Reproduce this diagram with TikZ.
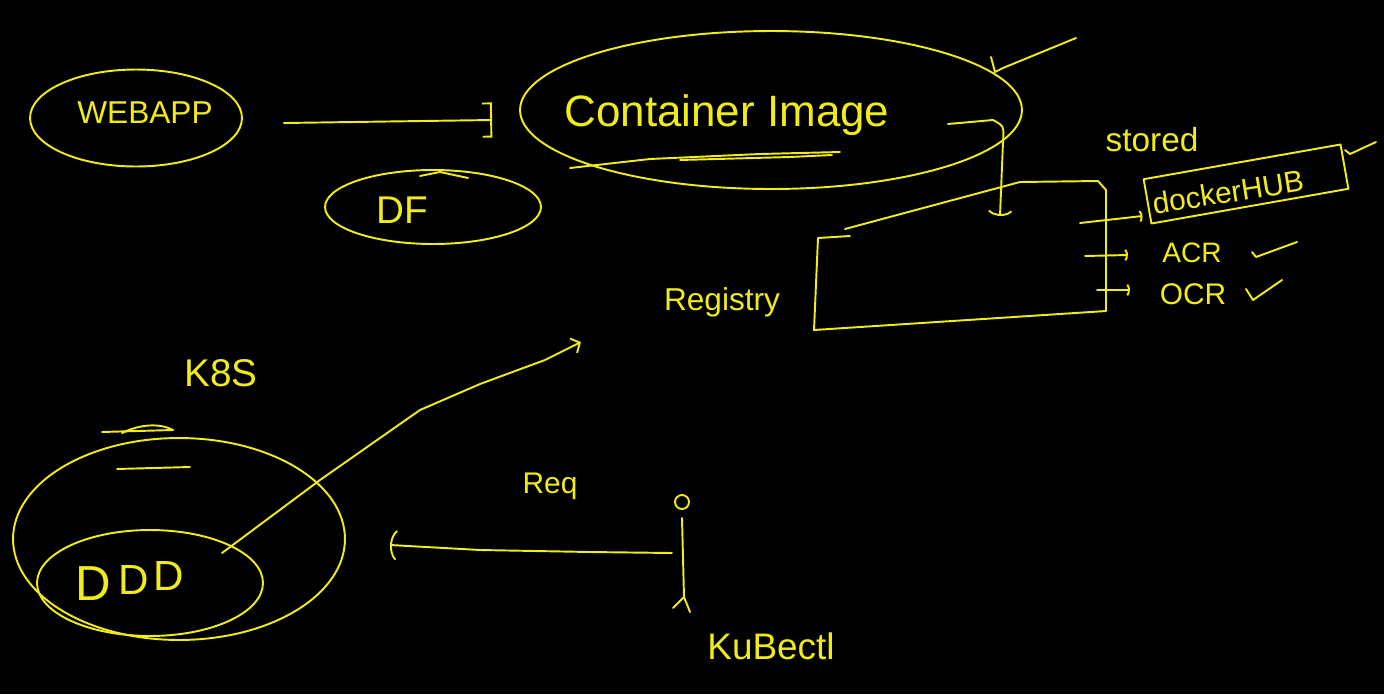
\documentclass[tikz,border=0pt]{standalone}
\usepackage{fontspec}
\setmainfont{Liberation Sans}
\usepackage{tikz}
\usetikzlibrary{arrows.meta}
\usetikzlibrary{calc}
\usetikzlibrary{shapes.geometric}

\definecolor{marker}{RGB}{240,236,24}

\tikzset{
  pen/.style={draw=marker, line width=1.1pt, line cap=round, line join=round},
  blob/.style={pen, ellipse, inner sep=0pt},
  word/.style={text=marker, inner sep=0pt},
  bracket/.style={-{Bracket[length=5pt,width=20pt]}},
  paren/.style={-{Parenthesis[length=#1/3,width=#1]}},
  barb/.style={-{Straight Barb[length=4pt,width=9pt]}},
}

\newcommand{\fs}[1]{\fontsize{#1}{#1}\selectfont}

\begin{document}
\begin{tikzpicture}[x=0.02cm, y=-0.02cm]

	\fill[black] (0,0) rectangle (1384,694);
	\useasboundingbox (0,0) rectangle (1384,694);

	% top row: app -> image
	\node[blob, minimum width=4.24cm, minimum height=1.94cm] (webapp) at (136,118) {};
	\node[word, font=\fs{18}] (webappT) at (145,113) {WEBAPP};

	\node[blob, minimum width=4.32cm, minimum height=1.48cm] (df) at (433,207) {};
	\node[word, font=\fs{22}] (dfT) at (402,210) {DF};
	\draw[pen] (420,176) -- (440,172) -- (468,178);

	\node[blob, minimum width=10.04cm, minimum height=3.16cm] (image) at (771,110) {};
	\node[word, font=\fs{25}] (imageT) at (727,115) {Container Image};
	\draw[pen] (570,168) -- (650,159) -- (760,154) -- (840,152);
	\draw[pen] (680,160) -- (790,157) -- (832,155);

	\draw[pen, bracket] ([xshift=0.82cm,yshift=-0.1cm]webapp.east) -- ([xshift=-0.54cm,yshift=-0.2cm]image.west);

	% tick on the image
	\coordinate (tickA) at (991,57);
	\draw[pen] (tickA) -- (995,72) -- (1003,68) -- (1076,38);

	% registry
	\coordinate (reg-a) at (850,236);
	\coordinate (reg-b) at (818,238);
	\coordinate (reg-c) at (814,330);
	\coordinate (reg-d) at (1106,311);
	\coordinate (reg-e) at (1106,190);
	\coordinate (reg-f) at (1098,181);
	\coordinate (reg-g) at (1020,182);
	\coordinate (reg-h) at (845,229);
	\draw[pen] (reg-a) -- (reg-b) -- (reg-c) -- (reg-d) -- (reg-e) -- (reg-f) -- (reg-g) -- (reg-h);
	\node[word, font=\fs{18}] (regT) at (722,302) {Registry};

	\coordinate (imgout) at (948,124);
	\coordinate (bend) at (993,120);
	\coordinate (regin) at (1000,216);
	\draw[pen, paren=16pt] (imgout) -- (bend) .. controls (1004,126) .. (1003,142) -- (regin);

	% where images are stored
	\node[word, font=\fs{19}] (storedT) at (1152,140) {stored};
	\node[word, font=\fs{17}, rotate=9] (hubT) at (1228,192) {dockerHUB};
	\node[pen, rotate=10, minimum width=4.0cm, minimum height=0.9cm] (hub) at (1246,184) {};
	\node[word, font=\fs{16}] (acrT) at (1192,253) {ACR};
	\node[word, font=\fs{17}] (ocrT) at (1193,294) {OCR};

	\coordinate (out1) at (1080,223);
	\coordinate (out2) at (1085,256);
	\coordinate (out3) at (1097,290);
	\draw[pen, paren=8pt] (out1) -- ([xshift=-0.08cm]hub.west |- 0,216);
	\draw[pen, paren=8pt] (out2) -- (1128,255);
	\draw[pen, paren=8pt] (out3) -- (1130,290);

	\draw[pen] (1345,150) -- (1350,154) -- (1376,142);
	\draw[pen] (1252,252) -- (1256,257) -- (1297,242);
	\draw[pen] (1246,289) -- (1253,300) -- (1282,280);

	% cluster
	\node[word, font=\fs{22}] (k8sT) at (221,373) {K8S};
	\node[blob, minimum width=6.64cm, minimum height=4.04cm] (k8s) at (179,539) {};
	\draw[pen] (102,432) -- (173,430);
	\draw[pen] (122,433) .. controls (140,424) and (160,423) .. (173,430);
	\draw[pen] (117,469) -- (190,467);

	\node[blob, minimum width=4.52cm, minimum height=2.12cm] (pods) at (150,583) {};
	\node[word, font=\fs{28}] (podA) at (93,584) {D};
	\node[word, font=\fs{24}] (podB) at (134,580) {D};
	\node[word, font=\fs{24}] (podC) at (169,576) {D};

	\coordinate (podout) at (222,553);
	\coordinate (podtip) at (581,342);
	\draw[pen, barb] (podout) -- (320,480) -- (420,410) -- (480,384) -- (545,360) -- (podtip);

	% kubectl user
	\node[pen, circle, minimum size=0.28cm, inner sep=0pt] (head) at (682,502) {};
	\coordinate (hip) at (684,597);
	\draw[pen] ([yshift=-0.16cm]head.south) -- (hip);
	\draw[pen] (673,608) -- (hip) -- (690,612);
	\node[word, font=\fs{21}] (kubeT) at (771,646) {KuBectl};

	\coordinate (hand) at (672,553);
	\coordinate (reqend) at (390,545);
	\draw[pen, paren=20pt] (hand) -- (590,552) -- (480,550) -- (reqend);
	\node[word, font=\fs{17}] (reqT) at (550,486) {Req};

\end{tikzpicture}
\end{document}
